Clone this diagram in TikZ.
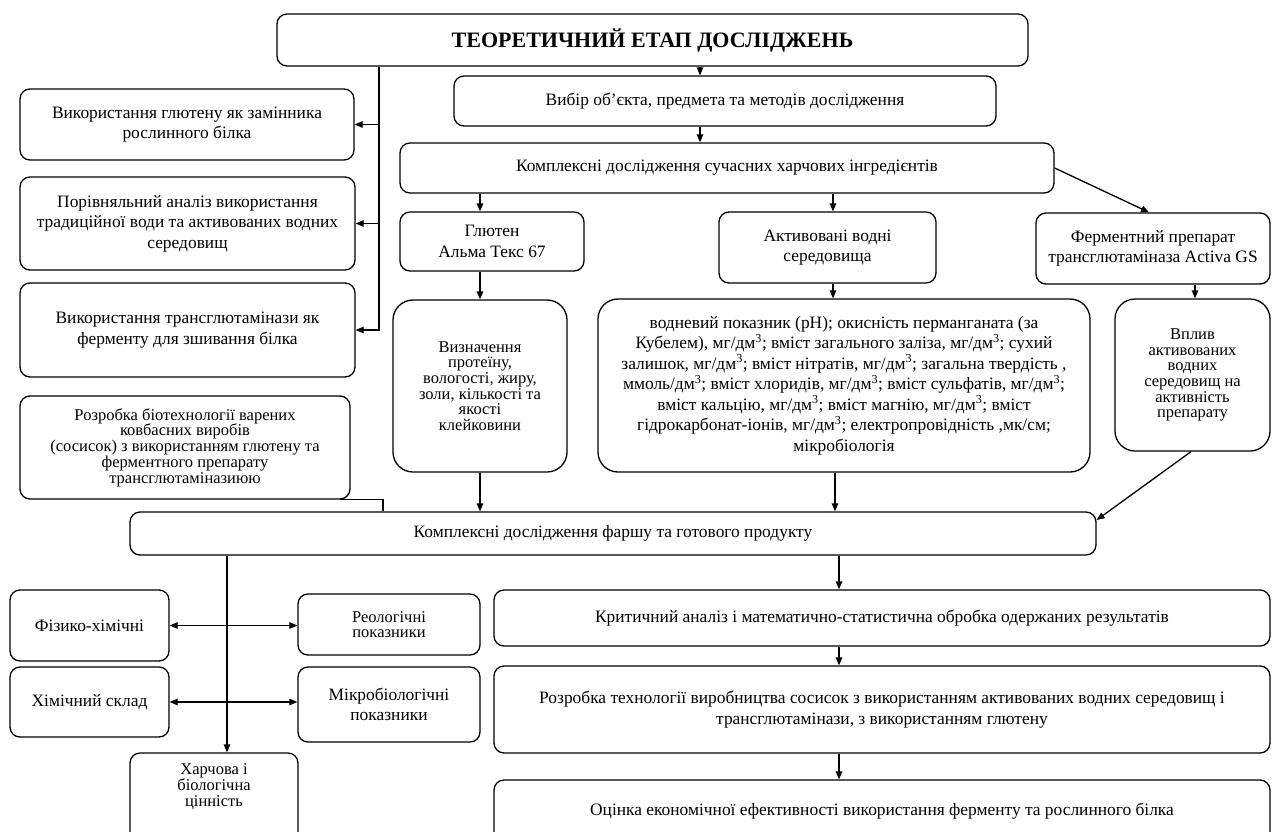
\documentclass[tikz,border=0pt]{standalone}
\usepackage{fontspec}
\setmainfont{Liberation Serif}
\usetikzlibrary{arrows.meta, positioning}

\begin{document}
\begin{tikzpicture}[
    x=1pt, y=-1pt,
    box/.style={draw, rounded corners=10pt, line width=1.3pt, align=center, inner sep=2pt, font=\fontsize{17.4}{20.5}\selectfont},
    bigbox/.style={box, rounded corners=20pt},
    tight/.style={font=\fontsize{16.5}{15.7}\selectfont},
    wh/.style n args={2}{minimum width=#1pt, minimum height=#2pt},
    arr/.style={-{Triangle[length=8pt, width=6.5pt]}, line width=1.3pt},
    darr/.style={{Triangle[length=8pt, width=6.5pt]}-{Triangle[length=8pt, width=6.5pt]}, line width=1.3pt},
]
\useasboundingbox (0,0) rectangle (1272,831);

% upper part
\node[box, wh={751}{52}, font=\fontsize{22}{24}\selectfont\bfseries] (title) at (652.5,40) {ТЕОРЕТИЧНИЙ ЕТАП ДОСЛІДЖЕНЬ};
\node[box, wh={542}{50}] (vybir) at (725,101) {Вибір об’єкта, предмета та методів дослідження};
\node[box, wh={654}{50}] (kompl) at (727,168) {Комплексні дослідження сучасних харчових інгредієнтів};
\node[box, wh={184}{59}] (gluten) at (492,241.5) {Глютен\\Альма Текс 67};
\node[box, wh={217}{71}] (aktyv) at (827.5,247.5) {Активовані водні\\середовища};
\node[box, wh={234}{71}] (ferment) at (1153,248.5) {Ферментний препарат\\трансглютаміназа Activa GS};
\node[bigbox, tight, wh={174}{172}] (vyzn) at (480,386) {Визначення\\протеїну,\\вологості, жиру,\\золи, кількості та\\якості\\клейковини};
\node[bigbox, inner sep=1pt, wh={492}{173}] (vodn) at (844,385.5) {водневий показник (pH); окисність перманганата (за\\
Кубелем), мг/дм\textsuperscript{3}; вміст загального заліза, мг/дм\textsuperscript{3}; сухий\\
залишок, мг/дм\textsuperscript{3}; вміст нітратів, мг/дм\textsuperscript{3}; загальна твердість ,\\
ммоль/дм\textsuperscript{3}; вміст хлоридів, мг/дм\textsuperscript{3}; вміст сульфатів, мг/дм\textsuperscript{3};\\
вміст кальцію, мг/дм\textsuperscript{3}; вміст магнію, мг/дм\textsuperscript{3}; вміст\\
гідрокарбонат-іонів, мг/дм\textsuperscript{3}; електропровідність ,мк/см;\\
мікробіологія};
\node[bigbox, tight, wh={155}{152}] (vplyv) at (1192.5,375) {Вплив\\активованих\\водних\\середовищ на\\активність\\препарату};

% left column
\node[box, wh={334}{71}] (left1) at (187,124.5) {Використання глютену як замінника\\рослинного білка};
\node[box, wh={335}{93}] (left2) at (187.5,223.5) {Порівняльний аналіз використання\\традиційної води та активованих водних\\середовищ};
\node[box, wh={335}{94}] (left3) at (187.5,330) {Використання трансглютамінази як\\ферменту для зшивання білка};
\node[box, tight, wh={330}{103}] (left4) at (185,447.5) {Розробка біотехнології варених\\ковбасних виробів\\(сосисок) з використанням глютену та\\ферментного препарату\\трансглютаміназиюю};

% lower part
\node[box, wh={966}{43}] (farsh) at (613,533.5) {Комплексні дослідження фаршу та готового продукту};
\node[box, wh={159}{71}] (fiz) at (89.5,625.5) {Фізико-хімічні};
\node[box, wh={159}{70}] (khim) at (89.5,702) {Хімічний склад};
\node[box, tight, wh={182}{61}] (reol) at (389,624.5) {Реологічні\\показники};
\node[box, wh={182}{75}] (mikro) at (389,704.5) {Мікробіологічні\\показники};
\node[box, tight, text depth=30pt, wh={168}{94}] (kharch) at (214,800) {Харчова і\\біологічна\\цінність};
\node[box, wh={776}{56}] (kryt) at (882,618) {Критичний аналіз і математично-статистична обробка одержаних результатів};
\node[box, wh={776}{87}] (rozr) at (882,709.5) {Розробка технології виробництва сосисок з використанням активованих водних середовищ і\\трансглютамінази, з використанням глютену};
\node[box, wh={776}{62}] (otsinka) at (882,811) {Оцінка економічної ефективності використання ферменту та рослинного білка};

% connectors
\coordinate (trunk) at ([xshift=-273.5pt]title.south);
\draw[arr] (trunk) |- (left3.east);
\draw[arr] (trunk |- left1.east) -- (left1.east);
\draw[arr] (trunk |- left2.east) -- (left2.east);

\draw[arr] ([xshift=47.5pt]title.south) -- ([xshift=-25pt]vybir.north);
\draw[arr] ([xshift=-25pt]vybir.south) -- ([xshift=-27pt]kompl.north);
\draw[arr] ([xshift=-247pt]kompl.south) -- ([xshift=-12pt]gluten.north);
\draw[arr] ([xshift=106pt]kompl.south) -- ([xshift=5.5pt]aktyv.north);
\draw[arr] (kompl.east) -- ([xshift=-4pt]ferment.north);
\draw[arr] ([xshift=-12pt]gluten.south) -- (vyzn.north);
\draw[arr] ([xshift=5.5pt]aktyv.south) -- ([xshift=-11pt]vodn.north);
\draw[arr] ([xshift=42pt]ferment.south) -- ([xshift=2.5pt]vplyv.north);

\draw[arr] (vyzn.south) -- ([xshift=-133pt]farsh.north);
\draw[arr] ([xshift=-9pt]vodn.south) -- ([xshift=222pt]farsh.north);
\draw[arr] ([xshift=-1.5pt]vplyv.south) -- ([yshift=13.5pt]farsh.east);
\draw[line width=1.3pt] ([xshift=-11pt]left4.south east) -| ([xshift=-230pt]farsh.north);

\draw[arr] ([xshift=-386pt]farsh.south) -- ([xshift=13pt]kharch.north);
\draw[darr] (fiz.east) -- (fiz.east -| reol.west);
\draw[darr] (khim.east) -- (khim.east -| mikro.west);

\draw[arr] ([xshift=226pt]farsh.south) -- ([xshift=-43pt]kryt.north);
\draw[arr] ([xshift=-43pt]kryt.south) -- ([xshift=-43pt]rozr.north);
\draw[arr] ([xshift=-43pt]rozr.south) -- ([xshift=-43pt]otsinka.north);

\end{tikzpicture}
\end{document}
